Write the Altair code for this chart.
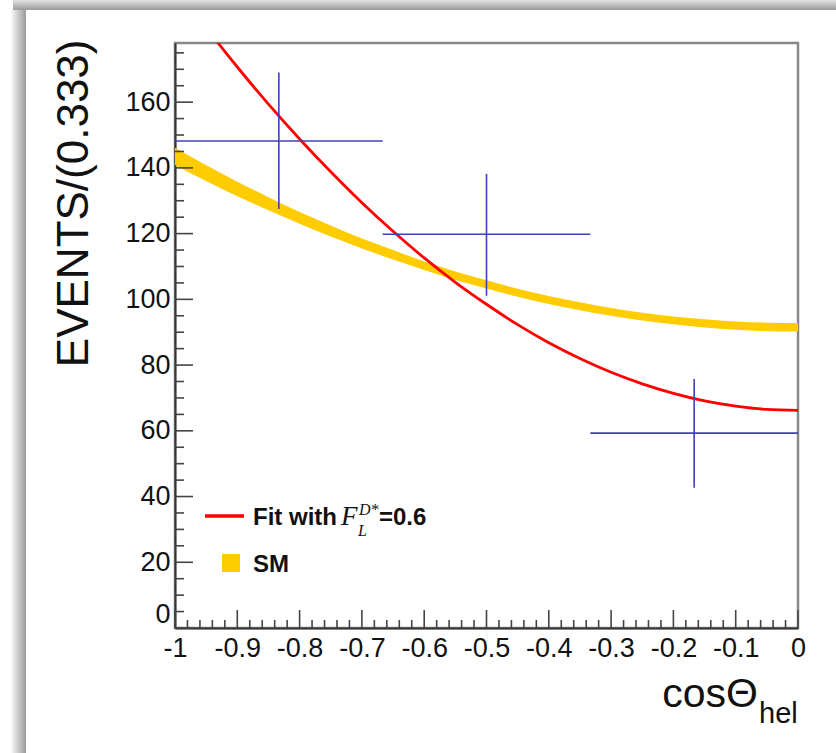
import altair as alt
import pandas as pd

# ---------------- data ----------------
bin_center = [-0.8333, -0.5, -0.1667]
bin_lo = [-1.0, -0.6667, -0.3333]
bin_hi = [-0.6667, -0.3333, 0.0]
events = [148.2, 119.8, 59.3]
err_up = [169.0, 138.2, 75.8]
err_dn = [127.5, 101.1, 42.7]

fit_x = [-0.95, -0.90, -0.85, -0.80, -0.75, -0.70, -0.65, -0.60, -0.55, -0.50,
         -0.45, -0.40, -0.35, -0.30, -0.25, -0.20, -0.15, -0.10, -0.05, 0.00]
fit_y = [182.6, 170.7, 159.4, 148.8, 138.8, 129.4, 120.7, 112.6, 105.2, 98.5,
         92.3, 86.8, 82.0, 77.8, 74.3, 71.4, 69.1, 67.5, 66.5, 66.2]

sm_x = [-1.00, -0.95, -0.90, -0.85, -0.80, -0.75, -0.70, -0.65, -0.60, -0.55, -0.50,
        -0.45, -0.40, -0.35, -0.30, -0.25, -0.20, -0.15, -0.10, -0.05, 0.00]
sm_lo = [140.9, 136.0, 131.4, 127.1, 123.0, 119.1, 115.5, 112.1, 108.9, 105.9, 103.3,
         100.8, 98.6, 96.7, 95.0, 93.55, 92.4, 91.45, 90.75, 90.3, 90.2]
sm_hi = [146.1, 140.8, 135.8, 131.1, 126.6, 122.5, 118.5, 115.0, 111.5, 108.5, 105.8,
         103.2, 101.0, 99.1, 97.4, 95.95, 94.8, 93.95, 93.25, 92.9, 92.8]

x_major = [-1.0, -0.9, -0.8, -0.7, -0.6, -0.5, -0.4, -0.3, -0.2, -0.1, 0.0]
y_major = [0, 20, 40, 60, 80, 100, 120, 140, 160]
x_minor = [round(-1 + 0.02 * i, 2) for i in range(51) if i % 5 != 0]
y_minor = [5 * i for i in range(36) if i % 4 != 0]

legend_fit = ["Fit with", "F", "L", "D*", "=0.6"]
legend_sm = "SM"
y_title = "EVENTS/(0.333)"
x_title = ["cosΘ", "hel"]

# ---------------- layout ----------------
W, H = 623, 585
PL, PT = 175, 43
XMIN, XMAX, YMIN, YMAX = -1.0, 0.0, 0.0, 178.0
FONT = "Liberation Sans"
BLUE = "#4040b4"
RED = "#ff0000"
YELLOW = "#ffcc00"

xs = alt.Scale(domain=[XMIN, XMAX], nice=False, zero=False)
ys = alt.Scale(domain=[YMIN, YMAX], nice=False, zero=False)

AX = alt.Axis(values=x_major, format=".1~f",
              labelExpr="replace(datum.label, '\u2212', '-')",
              ticks=False, tickSize=0, labelPadding=7, grid=False,
              labelFontSize=27, labelFont=FONT, labelColor="#111",
              domainColor="#333", domainWidth=2, title="",
              labelFlush=False, labelOverlap=False)
AY = alt.Axis(values=y_major, format="d", ticks=False, tickSize=0,
              labelPadding=5, grid=False, labelFontSize=27,
              labelBaseline={"condition": {"test": "datum.value === 0", "value": "bottom"},
                             "value": "middle"},
              labelFont=FONT, labelColor="#111", domainColor="#333",
              domainWidth=2, title=y_title, titleFont=FONT,
              titleFontSize=44, titleFontWeight="normal",
              titleColor="#111", titleAngle=-90, titleAlign="right",
              titleBaseline="middle", titleX=74 - PL, titleY=39 - PT,
              labelFlush=False, labelOverlap=False)


def X(field):
    return alt.X(field, scale=xs, axis=AX)


def Y(field):
    return alt.Y(field, scale=ys, axis=AY)


pts = pd.DataFrame({"c": bin_center, "lo": bin_lo, "hi": bin_hi,
                    "v": events, "up": err_up, "dn": err_dn})
fit = pd.DataFrame({"x": fit_x, "y": fit_y})
sm = pd.DataFrame({"x": sm_x, "lo": sm_lo, "hi": sm_hi})

one = pd.DataFrame({"a": [0]})

# SM band
band = alt.Chart(sm).mark_area(color=YELLOW, clip=True, interpolate="monotone").encode(
    x=X("x:Q"), y=Y("lo:Q"), y2="hi:Q")

fit_line = alt.Chart(fit).mark_line(color=RED, strokeWidth=2.8, clip=True,
                                    interpolate="monotone").encode(
    x=X("x:Q"), y=Y("y:Q"))

err_h = alt.Chart(pts).mark_rule(color=BLUE, strokeWidth=1.6).encode(
    x=X("lo:Q"), x2="hi:Q", y=Y("v:Q"))
err_v = alt.Chart(pts).mark_rule(color=BLUE, strokeWidth=1.6).encode(
    x=X("c:Q"), y=Y("dn:Q"), y2="up:Q")

# inward ticks
tick_col = "#444"
ymaj = alt.Chart(pd.DataFrame({"v": y_major})).mark_rule(color=tick_col, strokeWidth=1.6).encode(
    y=Y("v:Q"), x=alt.value(0), x2=alt.value(18))
ymin = alt.Chart(pd.DataFrame({"v": y_minor})).mark_rule(color=tick_col, strokeWidth=1.6).encode(
    y=Y("v:Q"), x=alt.value(0), x2=alt.value(9))
xmaj = alt.Chart(pd.DataFrame({"v": x_major})).mark_rule(color=tick_col, strokeWidth=1.6).encode(
    x=X("v:Q"), y=alt.value(H), y2=alt.value(H - 18))
xmin = alt.Chart(pd.DataFrame({"v": x_minor})).mark_rule(color=tick_col, strokeWidth=1.6).encode(
    x=X("v:Q"), y=alt.value(H), y2=alt.value(H - 8))

# Decorative gray shadow of the figure window (top and left)
top_bar = alt.Chart(one).mark_rect(
    fill=alt.Gradient(gradient="linear", x1=0, x2=0, y1=0, y2=1,
                      stops=[alt.GradientStop(color="#e2e2e2", offset=0),
                             alt.GradientStop(color="#9a9a9a", offset=1)])
).encode(x=alt.value(13 - PL), x2=alt.value(836 - PL),
         y=alt.value(0 - PT), y2=alt.value(10 - PT))
left_bar = alt.Chart(one).mark_rect(
    fill=alt.Gradient(gradient="linear", x1=0, x2=1, y1=0, y2=0,
                      stops=[alt.GradientStop(color="#ffffff", offset=0),
                             alt.GradientStop(color="#9a9a9a", offset=1)])
).encode(x=alt.value(10 - PL), x2=alt.value(26 - PL),
         y=alt.value(10 - PT), y2=alt.value(753 - PT))


def txt(s, x, y, size, font=FONT, weight="normal", style="normal", align="left"):
    return alt.Chart(pd.DataFrame({"t": [s]})).mark_text(
        font=font, fontSize=size, fontWeight=weight, fontStyle=style,
        align=align, baseline="alphabetic", color="#111"
    ).encode(text="t:N", x=alt.value(x - PL), y=alt.value(y - PT))


# legend
leg_line = alt.Chart(one).mark_rule(color=RED, strokeWidth=3.5).encode(
    x=alt.value(205 - PL), x2=alt.value(244 - PL), y=alt.value(516 - PT))
leg_box = alt.Chart(one).mark_rect(color=YELLOW).encode(
    x=alt.value(222 - PL), x2=alt.value(240 - PL),
    y=alt.value(554 - PT), y2=alt.value(572 - PT))
leg_texts = [
    txt(legend_fit[0], 253, 525, 24, weight="bold"),
    txt(legend_fit[1], 341, 525, 27, font="Liberation Serif", style="italic"),
    txt(legend_fit[2], 358, 536, 16, font="Liberation Serif", style="italic"),
    txt(legend_fit[3], 359, 515, 16, font="Liberation Serif", style="italic"),
    txt(legend_fit[4], 379, 525, 24, weight="bold"),
    txt(legend_sm, 253, 572, 24, weight="bold"),
]

# x axis title with subscript
xt = [txt(x_title[0], 758, 707, 41, align="right"),
      txt(x_title[1], 759, 723, 29)]

chart = alt.layer(
    band, fit_line, err_h, err_v, ymaj, ymin, xmaj, xmin,
    top_bar, left_bar, leg_line, leg_box, *leg_texts, *xt
).properties(
    width=W, height=H,
    autosize=alt.AutoSizeParams(type="none"),
    padding={"left": PL, "top": PT, "right": 836 - PL - W, "bottom": 753 - PT - H},
    background="white",
).configure_view(stroke="#888", strokeWidth=2.5)

chart.save("out.html", embed_options={"renderer": "svg", "actions": False})
